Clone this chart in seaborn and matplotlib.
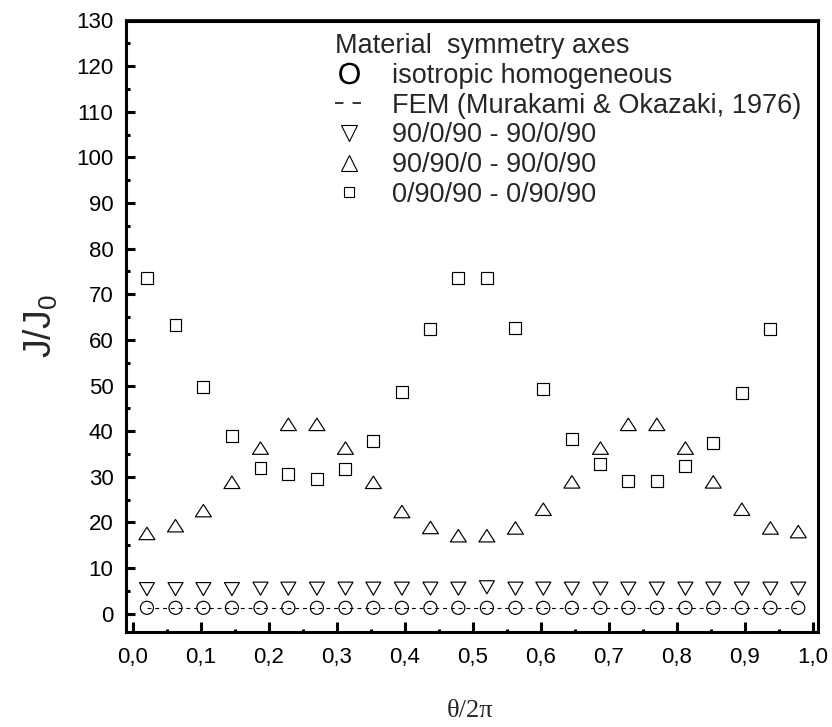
import numpy as np
import pandas as pd
import matplotlib
matplotlib.use("Agg")
import matplotlib.pyplot as plt
import seaborn as sns
from matplotlib.path import Path
from matplotlib.lines import Line2D
from matplotlib.ticker import FixedLocator, MultipleLocator, FixedFormatter

# ---------------- data ----------------
theta = [0.021, 0.063, 0.104, 0.146, 0.188, 0.229, 0.271, 0.313, 0.354, 0.396, 0.438, 0.479,
         0.521, 0.563, 0.604, 0.646, 0.688, 0.729, 0.771, 0.813, 0.854, 0.896, 0.938, 0.979]

iso_homog = [1.3, 1.3, 1.3, 1.3, 1.3, 1.3, 1.3, 1.3, 1.3, 1.3, 1.3, 1.3,
             1.3, 1.3, 1.3, 1.3, 1.3, 1.3, 1.3, 1.3, 1.3, 1.3, 1.3, 1.3]
fem_murakami = [1.3, 1.3, 1.3, 1.3, 1.3, 1.3, 1.3, 1.3, 1.3, 1.3, 1.3, 1.3,
                1.3, 1.3, 1.3, 1.3, 1.3, 1.3, 1.3, 1.3, 1.3, 1.3, 1.3, 1.3]
lay_90_0_90 = [5.4, 5.4, 5.4, 5.4, 5.5, 5.5, 5.5, 5.5, 5.5, 5.5, 5.5, 5.5,
               5.8, 5.5, 5.5, 5.5, 5.5, 5.5, 5.5, 5.5, 5.5, 5.5, 5.5, 5.5]
lay_90_90_0 = [17.6, 19.3, 22.6, 28.8, 36.3, 41.5, 41.5, 36.3, 28.8, 22.4, 18.9, 17.1,
               17.1, 18.8, 22.9, 28.9, 36.3, 41.5, 41.5, 36.3, 28.9, 22.9, 18.8, 18.0]
lay_0_90_90 = [73.6, 63.2, 49.6, 39.0, 32.0, 30.7, 29.5, 31.7, 37.9, 48.5, 62.5, 73.5,
               73.5, 62.6, 49.3, 38.2, 32.8, 29.1, 29.1, 32.4, 37.5, 48.3, 62.3, np.nan]

legend_title = "Material  symmetry axes"
series_labels = ["isotropic homogeneous", "FEM (Murakami & Okazaki, 1976)",
                 "90/0/90 - 90/0/90", "90/90/0 - 90/0/90", "0/90/90 - 0/90/90"]

xticks = [0.0, 0.1, 0.2, 0.3, 0.4, 0.5, 0.6, 0.7, 0.8, 0.9, 1.0]
xtick_labels = ["0,0", "0,1", "0,2", "0,3", "0,4", "0,5", "0,6", "0,7", "0,8", "0,9", "1,0"]
yticks = [0, 10, 20, 30, 40, 50, 60, 70, 80, 90, 100, 110, 120, 130]
ytick_labels = ["0", "10", "20", "30", "40", "50", "60", "70", "80", "90", "100", "110", "120", "130"]

df = pd.DataFrame({"theta": theta, "iso": iso_homog, "fem": fem_murakami,
                   "a": lay_90_0_90, "b": lay_90_90_0, "c": lay_0_90_90})

# ---------------- style ----------------
sns.set_style("ticks")
plt.rcParams["font.family"] = ["Liberation Sans", "DejaVu Sans"]
plt.rcParams["mathtext.fontset"] = "custom"
plt.rcParams["mathtext.rm"] = "Liberation Sans"
plt.rcParams["mathtext.it"] = "Liberation Sans"

W, H = 832, 727
fig = plt.figure(figsize=(W / 100, H / 100), dpi=100)
ax = fig.add_axes([126 / W, 1 - 632 / H, 692 / W, 611.5 / H])

# custom triangle markers (flattened like the reference)
tri_up = Path([(-1, -0.78), (1, -0.78), (0, 0.78), (-1, -0.78)],
              [Path.MOVETO, Path.LINETO, Path.LINETO, Path.CLOSEPOLY])
tri_dn = Path([(-1, 0.87), (1, 0.87), (0, -0.87), (-1, 0.87)],
              [Path.MOVETO, Path.LINETO, Path.LINETO, Path.CLOSEPOLY])

# FEM dashed line
sns.lineplot(data=df, x="theta", y="fem", ax=ax, color="black", linewidth=0.8,
             linestyle=(0, (3.5, 3.5)), zorder=2)

mk = dict(facecolor="none", edgecolor="black", linewidth=0.85, zorder=3, ax=ax)
sns.scatterplot(data=df, x="theta", y="iso", marker="o", s=9.4 ** 2, **mk)
sns.scatterplot(data=df, x="theta", y="a", marker=tri_dn, s=10.8 ** 2, **mk)
sns.scatterplot(data=df, x="theta", y="b", marker=tri_up, s=11.5 ** 2, **mk)
sns.scatterplot(data=df, x="theta", y="c", marker="s", s=8.6 ** 2, **mk)

# ---------------- axes ----------------
ax.set_xlim(-0.0098, 1.008)
ax.set_ylim(-4, 130)
ax.xaxis.set_major_locator(FixedLocator(xticks))
ax.xaxis.set_major_formatter(FixedFormatter(xtick_labels))
ax.xaxis.set_minor_locator(MultipleLocator(0.05))
ax.yaxis.set_major_locator(FixedLocator(yticks))
ax.yaxis.set_major_formatter(FixedFormatter(ytick_labels))
ax.yaxis.set_minor_locator(MultipleLocator(5))

for s in ax.spines.values():
    s.set_linewidth(2.2)
    s.set_color("black")

ax.tick_params(which="both", direction="in", top=False, right=False,
               width=2.2, color="black", labelcolor="black", labelsize=16)
ax.tick_params(axis="x", which="major", length=7, pad=11)
ax.tick_params(axis="x", which="minor", length=2.5)
ax.tick_params(axis="y", which="major", length=6.7, pad=9)
ax.tick_params(axis="y", which="minor", length=2.7)

sec = ax.secondary_xaxis("top")
sec.xaxis.set_major_locator(MultipleLocator(0.05))
sec.tick_params(direction="in", length=1.5, width=1.5, labeltop=False)
sec.spines["top"].set_linewidth(2.2)

ax.set_xlabel("θ/2π", fontsize=19, family=["Liberation Serif", "DejaVu Serif"])
ax.xaxis.set_label_coords(0.497, -0.111)
ax.set_ylabel(r"$\mathregular{J/J_0}$", fontsize=27)
ax.yaxis.set_label_coords(-0.095, 0.5)

# ---------------- legend ----------------
handles = [
    Line2D([], [], linestyle="none", marker=r"$\mathregular{O}$", markersize=15.5,
           markerfacecolor="black", markeredgewidth=0, color="black"),
    Line2D([], [], linestyle=(0, (5.5, 6)), linewidth=1.1, color="black"),
    Line2D([], [], linestyle="none", marker="v", markersize=11.5,
           markerfacecolor="none", markeredgecolor="black", markeredgewidth=0.8),
    Line2D([], [], linestyle="none", marker="^", markersize=11.5,
           markerfacecolor="none", markeredgecolor="black", markeredgewidth=0.8),
    Line2D([], [], linestyle="none", marker="s", markersize=7.9,
           markerfacecolor="none", markeredgecolor="black", markeredgewidth=0.8),
]
leg = ax.legend(handles, series_labels, title=legend_title, frameon=False,
                loc="upper left", bbox_to_anchor=((335 - 126) / 692, (632 - 33) / 611.5),
                fontsize=19.5, title_fontsize=19.5, alignment="left",
                borderpad=0, borderaxespad=0, handlelength=1.0, handletextpad=1.1,
                labelspacing=0.14)

fig.savefig("out.png", dpi=100)
